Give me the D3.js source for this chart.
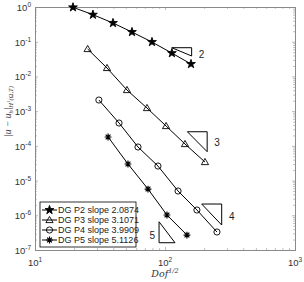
<!DOCTYPE html>
<html>
<head>
<meta charset="utf-8">
<script src="https://cdn.jsdelivr.net/npm/d3@7"></script>
<style>
body { margin: 0; background: #fff; }
</style>
</head>
<body>
<div id="chart"></div>
<script>
// values
var dofP2 = [19.6, 27.9, 39.8, 55.7, 79.4, 113, 158.5];
var errP2 = [0.98, 0.60, 0.346, 0.19, 0.098, 0.047, 0.0228];
var dofP3 = [25.4, 35.8, 51, 72.7, 101.9, 142.5, 203];
var errP3 = [0.0617, 0.0175, 0.00406, 0.00123, 3.73e-4, 1.13e-4, 3.42e-5];
var dofP4 = [31, 44.3, 62, 88.3, 126, 176, 251];
var errP4 = [2.09e-3, 4.55e-4, 9.27e-5, 2.62e-5, 5.0e-6, 1.42e-6, 3.3e-7];
var dofP5 = [36.5, 51.9, 74, 103.5, 147.5];
var errP5 = [1.8e-4, 3.0e-5, 5.7e-6, 1.02e-6, 2.7e-7];

var seriesNames = ["DG P2 slope 2.0874", "DG P3 slope 3.1071", "DG P4 slope 3.9909", "DG P5 slope 5.1126"];
var markerKinds = ["star", "triangle", "circle", "asterisk"];

// slope triangles: corners [x, y] and label
var triX = [[112.7, 160.3, 160.3], [148.6, 211, 211], [191.5, 273, 273], [90, 90, 119.4]];
var triY = [[0.0672, 0.0672, 0.0388], [2.55e-4, 2.55e-4, 6.78e-5], [2.11e-6, 2.11e-6, 5.24e-7], [6.5e-7, 1.62e-7, 1.62e-7]];
var triLabels = ["2", "3", "4", "5"];
var triLabelX = [191, 251, 326, 79.8];
var triLabelY = [0.0434, 1.21e-4, 9.5e-7, 2.7e-7];

var xMajor = [10, 100, 1000];
var yMajor = [1e-7, 1e-6, 1e-5, 1e-4, 1e-3, 1e-2, 1e-1, 1];

var margin = {top: 7, right: 9, bottom: 32, left: 35},
    width = 304 - margin.left - margin.right,
    height = 282 - margin.top - margin.bottom;

var x = d3.scaleLog().domain([10, 1000]).range([0, width]);
var y = d3.scaleLog().domain([1e-7, 1]).range([height, 0]);

var svg = d3.select("#chart").append("svg")
    .attr("width", 304)
    .attr("height", 282)
  .append("g")
    .attr("transform", "translate(" + margin.left + "," + margin.top + ")");

// minor tick values
var xMinor = [], yMinor = [];
xMajor.slice(0, -1).forEach(function(d) { for (var k = 2; k < 10; k++) xMinor.push(d * k); });
yMajor.slice(0, -1).forEach(function(d) { for (var k = 2; k < 10; k++) yMinor.push(d * k); });

var axisColor = "#8a8a8a";

function addAxis(axisFn, scale, vals, size, transform) {
    var g = svg.append("g")
        .attr("transform", transform)
        .call(axisFn(scale).tickValues(vals).tickSize(size).tickFormat(""));
    g.select(".domain").attr("stroke", axisColor);
    g.selectAll(".tick line").attr("stroke", axisColor).attr("stroke-width", 0.6);
}

addAxis(d3.axisBottom, x, xMajor, -3, "translate(0," + height + ")");
addAxis(d3.axisBottom, x, xMinor, -1.8, "translate(0," + height + ")");
addAxis(d3.axisTop, x, xMajor, -3, "translate(0,0)");
addAxis(d3.axisTop, x, xMinor, -1.8, "translate(0,0)");
addAxis(d3.axisLeft, y, yMajor, -3, "translate(0,0)");
addAxis(d3.axisLeft, y, yMinor, -1.8, "translate(0,0)");
addAxis(d3.axisRight, y, yMajor, -3, "translate(" + width + ",0)");
addAxis(d3.axisRight, y, yMinor, -1.8, "translate(" + width + ",0)");

// tick labels with exponents
xMajor.forEach(function(d) {
    var t = svg.append("text")
        .attr("x", x(d))
        .attr("y", height + 16)
        .attr("text-anchor", "middle")
        .style("font-family", "Liberation Sans, Arial, sans-serif")
        .style("font-size", "9.5px")
        .attr("fill", "#333");
    t.append("tspan").text("10");
    t.append("tspan").attr("dy", -4).style("font-size", "6.5px").text(Math.round(Math.log10(d)));
});

yMajor.forEach(function(d) {
    var t = svg.append("text")
        .attr("x", -4)
        .attr("y", y(d) + 4)
        .attr("text-anchor", "end")
        .style("font-family", "Liberation Sans, Arial, sans-serif")
        .style("font-size", "9.5px")
        .attr("fill", "#333");
    t.append("tspan").text("10");
    t.append("tspan").attr("dy", -4).style("font-size", "6.5px").text(Math.round(Math.log10(d)));
});

// axis titles
var xt = svg.append("text")
    .attr("x", x(100))
    .attr("y", height + 27)
    .attr("text-anchor", "middle")
    .style("font-family", "DejaVu Serif, Liberation Serif, serif")
    .style("font-style", "italic")
    .style("font-size", "9.5px")
    .attr("fill", "#333");
xt.append("tspan").text("Dof");
xt.append("tspan").attr("dy", -4).style("font-size", "6.5px").text("1/2");

var yt = svg.append("text")
    .attr("transform", "translate(" + (-24) + "," + (height / 2 - 17) + ") rotate(-90)")
    .attr("text-anchor", "middle")
    .style("font-family", "Liberation Serif, DejaVu Serif, serif")
    .style("font-style", "italic")
    .style("font-size", "9.5px")
    .attr("fill", "#333");
yt.append("tspan").text("|u \u2212 u");
yt.append("tspan").attr("dy", 2).style("font-size", "6.5px").text("h");
yt.append("tspan").attr("dy", -2).text("|");
yt.append("tspan").attr("dy", 2).style("font-size", "6.5px").text("H");
yt.append("tspan").attr("dy", -3).style("font-size", "5px").text("1");
yt.append("tspan").attr("dy", 3).style("font-size", "6.5px").text("(\u03a9,T)");

// markers
function markerPath(kind) {
    if (kind === "star") return d3.symbol().type(d3.symbolStar).size(24)();
    if (kind === "triangle") return "M0,-3.6L3.6,2.6L-3.6,2.6Z";
    if (kind === "circle") return d3.symbol().type(d3.symbolCircle).size(30)();
    var r = 3.4, p = "";
    for (var k = 0; k < 4; k++) {
        var a = k * Math.PI / 4;
        p += "M" + (-r * Math.cos(a)) + "," + (-r * Math.sin(a)) + "L" + (r * Math.cos(a)) + "," + (r * Math.sin(a));
    }
    return p;
}

function drawMarker(g, kind) {
    g.append("path")
        .attr("d", markerPath(kind))
        .attr("fill", kind === "star" ? "#000" : "none")
        .attr("stroke", "#000")
        .attr("stroke-width", kind === "asterisk" ? 1.2 : 0.9);
}

var allDof = [dofP2, dofP3, dofP4, dofP5];
var allErr = [errP2, errP3, errP4, errP5];

var line = d3.line()
    .x(function(d) { return x(d[0]); })
    .y(function(d) { return y(d[1]); });

allDof.forEach(function(dof, i) {
    var pts = dof.map(function(d, j) { return [d, allErr[i][j]]; });
    svg.append("path")
        .attr("d", line(pts))
        .attr("fill", "none")
        .attr("stroke", "#000")
        .attr("stroke-width", 1);
    pts.forEach(function(p) {
        var g = svg.append("g").attr("transform", "translate(" + x(p[0]) + "," + y(p[1]) + ")");
        drawMarker(g, markerKinds[i]);
    });
});

// slope triangles
triX.forEach(function(xs, i) {
    var pts = xs.map(function(v, j) { return [v, triY[i][j]]; });
    svg.append("path")
        .attr("d", line(pts) + "Z")
        .attr("fill", "none")
        .attr("stroke", "#000")
        .attr("stroke-width", 1);
    svg.append("text")
        .attr("x", x(triLabelX[i]))
        .attr("y", y(triLabelY[i]) + 3.5)
        .attr("text-anchor", "middle")
        .style("font-family", "Liberation Sans, Arial, sans-serif")
        .style("font-size", "10px")
        .attr("fill", "#222")
        .text(triLabels[i]);
});

// legend
var lg = svg.append("g").attr("transform", "translate(5,195)");
lg.append("rect")
    .attr("width", 96)
    .attr("height", 45)
    .attr("fill", "#fff")
    .attr("stroke", "#000")
    .attr("stroke-width", 0.8);
seriesNames.forEach(function(name, i) {
    var row = lg.append("g").attr("transform", "translate(0," + (8 + i * 10) + ")");
    row.append("line")
        .attr("x1", 2).attr("x2", 17)
        .attr("stroke", "#000").attr("stroke-width", 1);
    drawMarker(row.append("g").attr("transform", "translate(9.5,0)"), markerKinds[i]);
    row.append("text")
        .attr("x", 18)
        .attr("y", 3.3)
        .style("font-family", "Liberation Sans, Arial, sans-serif")
        .style("font-size", "9px")
        .attr("fill", "#222")
        .text(name);
});
</script>
</body>
</html>
